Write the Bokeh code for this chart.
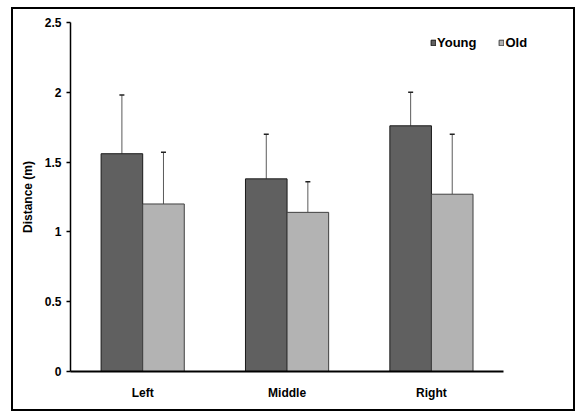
from bokeh.plotting import figure
from bokeh.models import ColumnDataSource, Range1d, FixedTicker, Whisker, TeeHead, Legend, LegendItem
from bokeh.embed import file_html
from bokeh.resources import INLINE

categories = ["Left", "Middle", "Right"]
young = [1.56, 1.38, 1.76]
old = [1.20, 1.14, 1.27]
young_err = [0.42, 0.32, 0.24]
old_err = [0.37, 0.22, 0.43]
y_ticks = [0, 0.5, 1, 1.5, 2, 2.5]
y_tick_labels = ["0", "0.5", "1", "1.5", "2", "2.5"]

bw = 0.288
centers = [i + 0.5 for i in range(len(categories))]
src_y = ColumnDataSource(dict(x=[c - bw / 2 for c in centers], val=young,
                              top=[v + e for v, e in zip(young, young_err)]))
src_o = ColumnDataSource(dict(x=[c + bw / 2 for c in centers], val=old,
                              top=[v + e for v, e in zip(old, old_err)]))

FONT = "Liberation Sans"

p = figure(width=564, height=404, x_range=Range1d(0, 3.2), y_range=Range1d(0, 2.5),
           output_backend="svg", toolbar_location=None,
           min_border_left=57, min_border_right=45, min_border_top=13, min_border_bottom=42)
p.styles = {"border": "2px solid black", "margin-left": "11px", "margin-top": "7px"}
p.outline_line_color = None
p.xgrid.visible = False
p.ygrid.visible = False

r_y = p.vbar(x="x", top="val", width=bw, source=src_y,
             fill_color="#606060", line_color="#1a1a1a", line_width=1)
r_o = p.vbar(x="x", top="val", width=bw, source=src_o,
             fill_color="#b3b3b3", line_color="#404040", line_width=1)

for src in (src_y, src_o):
    w = Whisker(source=src, base="x", upper="top", lower="val",
                line_color="#5a5a5a", line_width=1,
                upper_head=TeeHead(size=5, line_color="#222222", line_width=1.5), lower_head=None)
    p.add_layout(w)

# y axis
p.yaxis.ticker = FixedTicker(ticks=y_ticks)
p.yaxis.major_label_overrides = {t: l for t, l in zip(y_ticks, y_tick_labels)}
p.yaxis.minor_tick_line_color = None
p.yaxis.major_tick_in = 0
p.yaxis.major_tick_out = 4
p.yaxis.axis_line_color = "black"
p.yaxis.axis_line_width = 1.5
p.yaxis.major_tick_line_width = 1.5
p.yaxis.major_label_text_font = FONT
p.yaxis.major_label_text_font_style = "bold"
p.yaxis.major_label_text_font_size = "12px"
p.yaxis.major_label_text_color = "black"
p.yaxis.major_label_standoff = 5
p.yaxis.axis_label = "Distance (m)"
p.yaxis.axis_label_text_font = FONT
p.yaxis.axis_label_text_font_style = "bold"
p.yaxis.axis_label_text_font_size = "12px"
p.yaxis.axis_label_text_color = "black"
p.yaxis.axis_label_standoff = 7

# x axis (line only under the three categories)
p.xaxis.bounds = (0, len(categories))
p.xaxis.ticker = FixedTicker(ticks=centers)
p.xaxis.major_label_overrides = {c: n for c, n in zip(centers, categories)}
p.xaxis.minor_tick_line_color = None
p.xaxis.major_tick_line_color = None
p.xaxis.major_tick_out = 0
p.xaxis.major_tick_in = 0
p.xaxis.axis_line_color = "black"
p.xaxis.axis_line_width = 2
p.xaxis.major_label_text_font = FONT
p.xaxis.major_label_text_font_style = "bold"
p.xaxis.major_label_text_font_size = "12px"
p.xaxis.major_label_text_color = "black"
p.xaxis.major_label_standoff = 14

legend = Legend(items=[LegendItem(label="Young", renderers=[r_y]),
                       LegendItem(label="Old", renderers=[r_o])],
                location=(360, 321), orientation="horizontal",
                glyph_width=6, glyph_height=7, label_standoff=1, spacing=22,
                padding=0, margin=0, border_line_color=None, background_fill_alpha=0,
                label_text_font=FONT, label_text_font_style="bold", label_text_color="black",
                label_text_font_size="13px", label_height=12)
p.add_layout(legend)

open("out.html", "w").write(file_html(p, INLINE))
